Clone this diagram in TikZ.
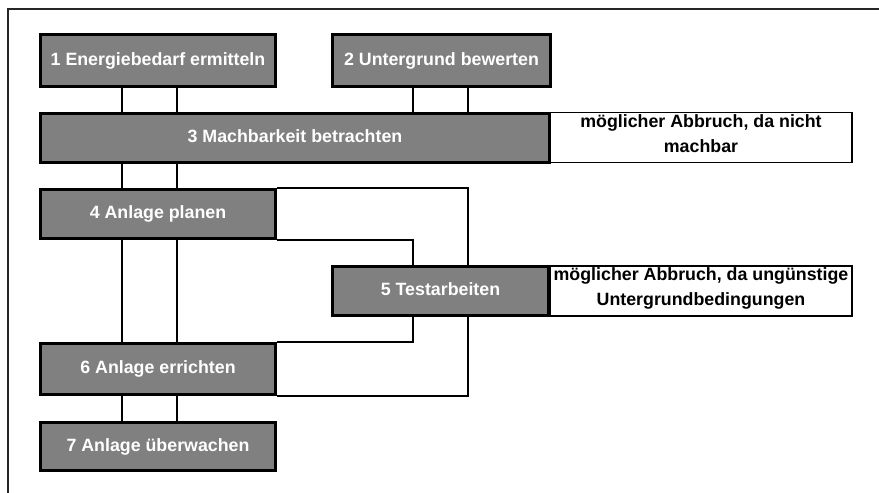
\documentclass[tikz,border=0pt]{standalone}
\usepackage{fontspec}
\setmainfont{Liberation Sans}
\usetikzlibrary{backgrounds}
\begin{document}
\begin{tikzpicture}[x=1pt,y=-1pt,
  gbox/.style={draw=black, line width=3pt, fill=gray, text=white,
    font=\fontsize{17.8}{20}\selectfont\bfseries, inner sep=0pt,
    text height=12.8pt, text depth=3.7pt},
  tbox/.style={draw=black, line width=1.8pt, fill=white, text=black,
    font=\fontsize{17.8}{24.7}\selectfont\bfseries, inner sep=0pt},
  conn/.style={draw=black, line width=1.8pt}]
\useasboundingbox (0,0) rectangle (879,493);
% frame
\draw[line width=2pt, black!85] (8,493) -- (8,9) -- (879,9);
% helper x positions
\coordinate (cA) at (122,0);
\coordinate (cB) at (177,0);
\coordinate (cC) at (413,0);
\coordinate (cD) at (468,0);
% side notes
\node[tbox, minimum width=302pt, minimum height=50pt] (t1) at (701,137.5)
  {\parbox[c][46pt][t]{300pt}{\centering möglicher Abbruch, da nicht\\machbar}};
\node[tbox, minimum width=302pt, minimum height=50pt] (t2) at (701,291)
  {\parbox[c][46pt][t]{300pt}{\centering möglicher Abbruch, da ungünstige\\Untergrundbedingungen}};
% steps
\node[gbox, minimum width=235pt, minimum height=52pt] (n1) at (158,60.5) {1 Energiebedarf ermitteln};
\node[gbox, minimum width=218pt, minimum height=52pt] (n2) at (441.5,60.5) {2 Untergrund bewerten};
\node[gbox, minimum width=509pt, minimum height=49pt] (n3) at (295,138) {3 Machbarkeit betrachten};
\node[gbox, minimum width=235pt, minimum height=49pt] (n4) at (158,214) {4 Anlage planen};
\node[gbox, minimum width=216pt, minimum height=49pt] (n5) at (440.5,291) {5 Testarbeiten};
\node[gbox, minimum width=235pt, minimum height=51pt] (n6) at (158,369) {6 Anlage errichten};
\node[gbox, minimum width=235pt, minimum height=48pt] (n7) at (158,446.5) {7 Anlage überwachen};
% connectors
\begin{scope}[on background layer]
\draw[conn] (cA |- n1.south) -- (cA |- n3.north);
\draw[conn] (cB |- n1.south) -- (cB |- n3.north);
\draw[conn] (cC |- n2.south) -- (cC |- n3.north);
\draw[conn] (cD |- n2.south) -- (cD |- n3.north);
\draw[conn] (cA |- n3.south) -- (cA |- n4.north);
\draw[conn] (cB |- n3.south) -- (cB |- n4.north);
\draw[conn] (cA |- n4.south) -- (cA |- n6.north);
\draw[conn] (cB |- n4.south) -- (cB |- n6.north);
\draw[conn] (cA |- n6.south) -- (cA |- n7.north);
\draw[conn] (cB |- n6.south) -- (cB |- n7.north);
\draw[conn] (n4.north east) -- (cD |- n4.north) -- (cD |- n6.south) -- (n6.south east);
\draw[conn] (n4.south east) -- (cC |- n4.south) -- (cC |- n5.north);
\draw[conn] (cC |- n5.south) -- (cC |- n6.north) -- (n6.north east);
\end{scope}
\end{tikzpicture}
\end{document}
